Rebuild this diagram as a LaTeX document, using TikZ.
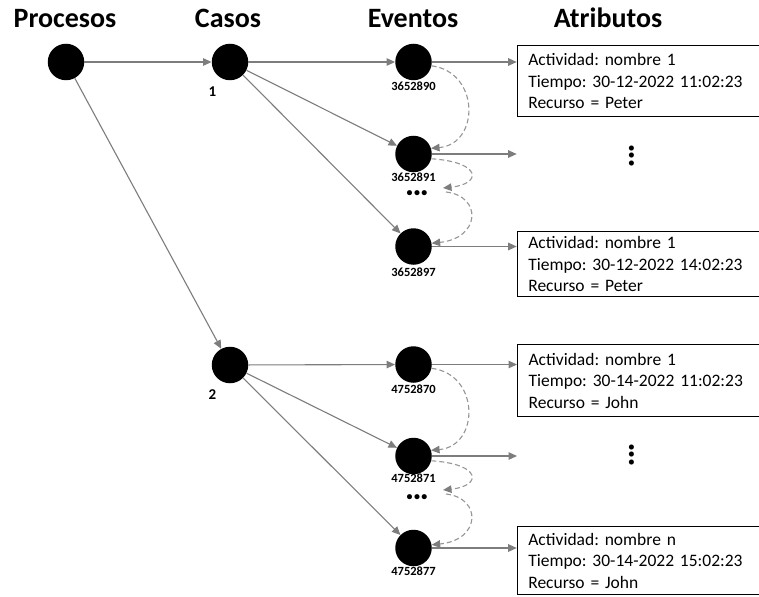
\documentclass[tikz,border=0pt]{standalone}
\usepackage{fontspec}
\setmainfont{Carlito}
\usetikzlibrary{arrows.meta}
\definecolor{linegray}{RGB}{125,125,125}
\definecolor{dashgray}{RGB}{150,150,150}
\frenchspacing
\newcommand{\tridots}{•\kern1.5pt•\kern1.5pt•}
\tikzset{
  dotnode/.style={circle,fill=black,minimum size=36.5pt,inner sep=0pt},
  conn/.style={draw=linegray,line width=1.1pt,-{Triangle[length=8.5pt,width=7.5pt]}},
  dconn/.style={draw=dashgray,line width=1.1pt,dash pattern=on 5pt off 3pt,-{Triangle[length=8.5pt,width=7.5pt,color=linegray]}},
  titletext/.style={font=\fontsize{28}{32}\selectfont\bfseries,anchor=base},
  evlabel/.style={font=\fontsize{12.5}{14}\selectfont\bfseries,inner sep=1pt},
  caselabel/.style={font=\fontsize{15}{16}\selectfont\bfseries,inner sep=1pt},
  ellip/.style={font=\fontsize{12}{12}\selectfont\bfseries,inner sep=0pt},
  attrbox/.style={draw=black,line width=1.2pt,anchor=north west,text width=250pt,inner xsep=11pt,inner ysep=0pt,align=left,font=\fontsize{17.5}{21.5}\selectfont}
}
\begin{document}
\begin{tikzpicture}[x=1pt,y=-1pt]
\useasboundingbox (0,0) rectangle (759,596);
\clip (0,0) rectangle (759,596);
\fill[white] (0,0) rectangle (759,596);
% titles
\node[titletext] (tP) at (65,27.7) {Procesos};
\node[titletext] (tC) at (228,27.7) {Casos};
\node[titletext] (tE) at (413,27.7) {Eventos};
\node[titletext] (tA) at (608,27.7) {Atributos};
% nodes
\node[dotnode] (P) at (66,62) {};
\node[dotnode] (C1) at (230,62) {};
\node[dotnode] (C2) at (230,365) {};
\node[caselabel] (l1) at (212.5,92) {1};
\node[caselabel] (l2) at (212.5,395) {2};
\node[dotnode] (E1) at (413.5,62) {};
\node[dotnode] (E2) at (413.5,154) {};
\node[dotnode] (E3) at (413.5,246.5) {};
\node[dotnode] (E4) at (413.5,364.5) {};
\node[dotnode] (E5) at (413.5,456) {};
\node[dotnode] (E6) at (413.5,548) {};
\node[evlabel] (n1) at (413.5,86.5) {3652890};
\node[evlabel] (n2) at (413.5,177) {3652891};
\node[evlabel] (n3) at (413.5,272) {3652897};
\node[evlabel] (n4) at (413.5,389) {4752870};
\node[evlabel] (n5) at (413.5,478) {4752871};
\node[evlabel] (n6) at (413.5,571) {4752877};
\node[ellip] (d1) at (417,193.5) {\tridots};
\node[ellip] (d2) at (417,497.5) {\tridots};
\node[ellip,rotate=90] (v1) at (632,156) {\tridots};
\node[ellip,rotate=90] (v2) at (632,455) {\tridots};
% attribute boxes
\node[attrbox,minimum height=71pt] (B1) at (516.7,45) {Actividad: nombre 1\\Tiempo: 30-12-2022 11:02:23\\Recurso = Peter};
\node[attrbox,minimum height=65pt] (B2) at (516.7,231) {Actividad: nombre 1\\Tiempo: 30-12-2022 14:02:23\\Recurso = Peter};
\node[attrbox,minimum height=72pt] (B3) at (517,344) {Actividad: nombre 1\\Tiempo: 30-14-2022 11:02:23\\Recurso = John};
\node[attrbox,minimum height=68pt] (B4) at (516.7,526) {Actividad: nombre n\\Tiempo: 30-14-2022 15:02:23\\Recurso = John};
% connectors
\draw[conn] (P) -- (C1);
\draw[conn] (P) -- (C2);
\draw[conn] (C1) -- (E1);
\draw[conn] (C1) -- (E2);
\draw[conn] (C1) -- (E3);
\draw[conn] (C2) -- (E4);
\draw[conn] (C2) -- (E5);
\draw[conn] (C2) -- (E6);
\draw[conn] (E1) -- (E1 -| B1.west);
\draw[conn] (E2) -- (E2 -| B1.west);
\draw[conn] (E3) -- (E3 -| B2.west);
\draw[conn] (E4) -- (E4 -| B3.west);
\draw[conn] (E5) -- (E5 -| B3.west);
\draw[conn] (E6) -- (E6 -| B4.west);
% dashed sequence arrows
\coordinate (m1) at (443,188);
\coordinate (m1b) at (446,192);
\coordinate (m2) at (443,490);
\coordinate (m2b) at (446,494);
\draw[dconn] (E1.-12) .. controls (480,72) and (480,144) .. (E2.18);
\draw[dconn] (E2.-15) .. controls (482,162) and (482,184) .. (m1);
\draw[dconn] (m1b) .. controls (482,196) and (481,238) .. (E3.10);
\draw[dconn] (E4.-12) .. controls (480,374) and (480,446) .. (E5.18);
\draw[dconn] (E5.-15) .. controls (482,464) and (482,486) .. (m2);
\draw[dconn] (m2b) .. controls (482,498) and (481,540) .. (E6.10);
\end{tikzpicture}
\end{document}
